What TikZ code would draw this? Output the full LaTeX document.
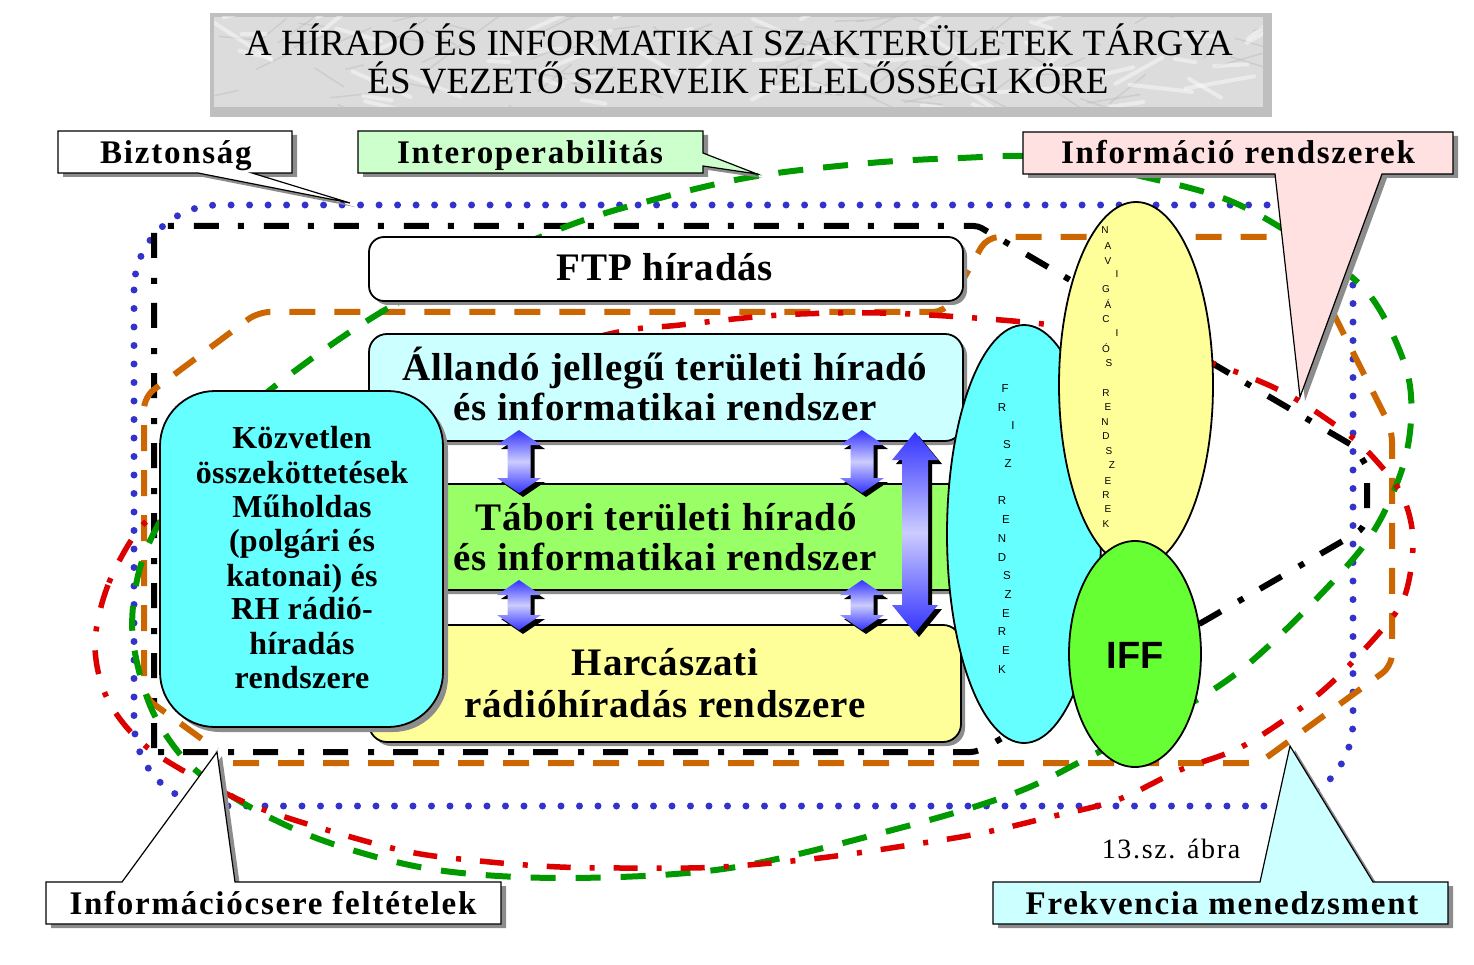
\documentclass[tikz,border=0pt]{standalone}
\usepackage{fontspec}
\setmainfont{Liberation Serif}
\newfontfamily\sansf{Liberation Sans}
\definecolor{cAll}{HTML}{CCFFFF}
\definecolor{cTab}{HTML}{99FF66}
\definecolor{cHar}{HTML}{FFFF99}
\definecolor{cKoz}{HTML}{66FFFF}
\definecolor{cIFF}{HTML}{66FF33}
\definecolor{cInter}{HTML}{CCFFCC}
\definecolor{cInfo}{HTML}{FFE1E1}
\definecolor{cFrek}{HTML}{CCFFFF}
\definecolor{lblue}{HTML}{3333CC}
\definecolor{lgreen}{HTML}{009900}
\definecolor{lorange}{HTML}{CC6600}
\definecolor{lred}{HTML}{DD0000}
\definecolor{arrblue}{HTML}{3333FF}
\definecolor{arrlight}{HTML}{CCCCFF}
\definecolor{shd}{HTML}{8C8C8C}
\definecolor{marble}{HTML}{DCDCDC}
\tikzset{
  bluedots/.style={lblue, line width=7pt, line cap=round, dash pattern=on 0pt off 18.5pt},
  blackdd/.style={black, line width=6pt, dash pattern=on 25pt off 19pt on 6pt off 20pt},
  orangedash/.style={lorange, line width=6pt, dash pattern=on 26pt off 19pt},
  greendash/.style={lgreen, line width=6pt, dash pattern=on 25pt off 20pt},
  reddd/.style={lred, line width=5.5pt, dash pattern=on 24pt off 19pt on 5pt off 19pt},
  boxline/.style={draw=black, line width=1.8pt},
  calloutline/.style={draw=black, line width=1.2pt},
  shdfill/.style={fill=shd},
  bigtxt/.style={font=\fontsize{39}{42}\selectfont\bfseries\addfontfeature{LetterSpace=2}, anchor=base, inner sep=0pt},
  kozt/.style={font=\fontsize{32}{34}\selectfont\bfseries\addfontfeature{LetterSpace=1}, anchor=base, inner sep=0pt},
  lbltxt/.style={font=\fontsize{33}{36}\selectfont\bfseries\addfontfeature{LetterSpace=5.3}, anchor=base, inner sep=0pt},
  titletxt/.style={font=\fontsize{37}{40}\selectfont, anchor=base, inner sep=0pt},
  vl/.style={font=\sansf\fontsize{11.5}{11.5}\selectfont, inner sep=0pt},
  nl/.style={font=\sansf\fontsize{10}{10}\selectfont, inner sep=0pt},
}
\newcommand\dblarr[6]{%
  \fill[black, shift={(4,4)}] (#1,#2) -- ({#1+#5},{#2+#6}) -- ({#1+#4},{#2+#6}) -- ({#1+#4},{#3-#6}) -- ({#1+#5},{#3-#6}) -- (#1,#3) -- ({#1-#5},{#3-#6}) -- ({#1-#4},{#3-#6}) -- ({#1-#4},{#2+#6}) -- ({#1-#5},{#2+#6}) -- cycle;
  \shade[top color=arrblue, bottom color=arrblue, middle color=arrlight] (#1,#2) -- ({#1+#5},{#2+#6}) -- ({#1+#4},{#2+#6}) -- ({#1+#4},{#3-#6}) -- ({#1+#5},{#3-#6}) -- (#1,#3) -- ({#1-#5},{#3-#6}) -- ({#1-#4},{#3-#6}) -- ({#1-#4},{#2+#6}) -- ({#1-#5},{#2+#6}) -- cycle;
}
\begin{document}
\begin{tikzpicture}[x=1pt,y=-1pt]
\useasboundingbox (0,0) rectangle (1474,965);
\fill[white] (0,0) rectangle (1474,965);

% ---------- title ----------
\fill[gray!50] (210,13) rectangle (1272,117);
\fill[marble] (214,17) rectangle (1263,107);
\begin{scope}
\clip (214,17) rectangle (1263,107);
\pgfmathsetseed{11}
\foreach \i in {1,...,90} {
  \pgfmathsetmacro\xa{214+rnd*1049}
  \pgfmathsetmacro\ya{17+rnd*90}
  \pgfmathsetmacro\ang{-40+rnd*80}
  \pgfmathsetmacro\len{15+rnd*45}
  \draw[gray!60, line width=1.5pt, opacity=0.35, line cap=round] (\xa,\ya) -- ++(\ang:\len);
}
\foreach \i in {1,...,60} {
  \pgfmathsetmacro\xa{214+rnd*1049}
  \pgfmathsetmacro\ya{17+rnd*90}
  \pgfmathsetmacro\ang{-40+rnd*80}
  \pgfmathsetmacro\len{20+rnd*50}
  \draw[white, line width=4pt, opacity=0.45, line cap=round] (\xa,\ya) -- ++(\ang:\len);
}
\end{scope}
\node[titletxt] (t1) at (739,56) {A HÍRADÓ ÉS INFORMATIKAI SZAKTERÜLETEK TÁRGYA};
\node[titletxt] (t2) at (738,94) {ÉS VEZETŐ SZERVEIK FELELŐSSÉGI KÖRE};

% ---------- boundary lines ----------
\draw[bluedots, rounded corners=85pt] (134,205) rectangle (1353,806);
\draw[blackdd, rounded corners=4pt] (154,752) -- (154,226) -- (978,226) -- (1355,447) -- (1367,467) -- (1367,520) -- (1360,531) -- (990,745) -- (975,752) -- cycle;
\draw[orangedash, rounded corners=12pt] (233,763) -- (1259,763) -- (1392,666) -- (1392,430) -- (1295,237) -- (987,237) -- (945,312) -- (258,312) -- (144,397) -- (144,697) -- (217,750);
\draw[greendash] plot[smooth cycle, tension=0.55] coordinates {
 (270,390) (397,303) (560,229) (660,198) (757,176) (870,163) (960,158) (1040,157) (1140,176) (1228,200) (1300,240) (1368,293) (1405,365) (1411,420) (1399,478) (1362,548) (1275,640) (1208,693) (1093,755) (1015,793) (900,828) (730,868) (570,878) (437,870) (330,843) (250,807) (190,765) (152,710) (133,640) (137,580) (157,527) (205,455)};
\draw[reddd] plot[smooth cycle, tension=0.55] coordinates {
 (140,528) (108,585) (95,645) (108,700) (148,748) (225,793) (285,817) (400,850) (480,861) (560,867) (640,868) (720,867) (820,858) (910,845) (982,833) (1050,817) (1117,800) (1180,770) (1245,745) (1320,693) (1380,632) (1405,595) (1413,540) (1402,495) (1372,456) (1345,432) (1287,394) (1223,367) (1140,340) (1060,326) (975,318) (880,313) (780,315) (680,325) (605,335) (430,385) (270,460) (175,505)};

% ---------- main boxes ----------
\fill[shdfill, rounded corners=15pt] (373,241) rectangle (967,305);
\draw[boxline, fill=white, rounded corners=15pt] (369,237) rectangle (963,301);
\node[bigtxt] (ftp) at (665,281) {FTP híradás};

\fill[shdfill, rounded corners=18pt] (373,338) rectangle (967,445);
\draw[boxline, fill=cAll, rounded corners=18pt] (369,334) rectangle (963,441);
\node[bigtxt] (all1) at (665,380) {Állandó jellegű területi híradó};
\node[bigtxt] (all2) at (665,420) {és informatikai rendszer};

\fill[shdfill, rounded corners=8pt] (373,488) rectangle (966,594);
\draw[boxline, fill=cTab, rounded corners=8pt] (369,484) rectangle (962,590);
\node[bigtxt] (tab1) at (666,530) {Tábori területi híradó};
\node[bigtxt] (tab2) at (665,570) {és informatikai rendszer};

\fill[shdfill, rounded corners=18pt] (373,629) rectangle (965,746);
\draw[boxline, fill=cHar, rounded corners=18pt] (369,625) rectangle (961,742);
\node[bigtxt] (har1) at (665,675) {Harcászati};
\node[bigtxt] (har2) at (665,717) {rádióhíradás rendszere};

\fill[shdfill, rounded corners=55pt] (165,396) rectangle (448,732);
\draw[boxline, fill=cKoz, rounded corners=55pt] (160,391) rectangle (443,727);
\node[kozt] (k1) at (302,448) {Közvetlen};
\node[kozt] (k2) at (302,483) {összeköttetések};
\node[kozt] (k3) at (302,517) {Műholdas};
\node[kozt] (k4) at (302,551) {(polgári és};
\node[kozt] (k5) at (302,586) {katonai) és};
\node[kozt] (k6) at (302,619) {RH rádió-};
\node[kozt] (k7) at (302,654) {híradás};
\node[kozt] (k8) at (302,688) {rendszere};

% ---------- ellipses ----------
\draw[boxline, fill=cKoz] (1024,534) ellipse [x radius=77pt, y radius=209pt];
\draw[boxline, fill=cHar] (1136,385) ellipse [x radius=77pt, y radius=183pt];
\draw[boxline, fill=cIFF] (1135,654) ellipse [x radius=66pt, y radius=113pt];
\node[font=\sansf\bfseries\fontsize{38}{38}\selectfont, anchor=base, inner sep=0pt] (iff) at (1135,668) {IFF};
\foreach \x/\y/\t [count=\i] in {1005/389/F,1002/408/R,1013/426/I,1007/445/S,1008/464/Z,1002/501/R,1006/520/E,1002/539/N,1002/558/D,1007/576/S,1008/595/Z,1006/614/E,1002/632/R,1006/651/E,1002/670/K}
  \node[vl] (fr\i) at (\x,\y) {\t};
\foreach \x/\y/\t [count=\i] in {1105/230/N,1108/246/A,1108/261/V,1117/274/I,1106/289/G,1108/304/Á,1106/319/C,1117/333/I,1106/348/Ó,1109/363/S,1106/393/R,1108/407/E,1105/422/N,1106/436/D,1109/451/S,1112/465/Z,1108/481/E,1106/495/R,1108/509/E,1106/524/K}
  \node[nl] (nv\i) at (\x,\y) {\t};

% ---------- arrows ----------
\dblarr{519}{430}{493}{11.5}{22}{15}
\dblarr{862}{430}{493}{11.5}{22}{15}
\dblarr{519}{580}{630}{11.5}{22}{15}
\dblarr{862}{580}{630}{11.5}{22}{15}
\dblarr{915}{432}{633}{13}{23}{28}

% ---------- callouts ----------
\fill[shdfill, shift={(5,4)}] (58,131) -- (292,131) -- (292,173) -- (252,173) -- (350,203) -- (198,173) -- (58,173) -- cycle;
\draw[calloutline, fill=white] (58,131) -- (292,131) -- (292,173) -- (252,173) -- (350,203) -- (198,173) -- (58,173) -- cycle;
\node[lbltxt] (bizt) at (176,164) {Biztonság};

\fill[shdfill, shift={(5,4)}] (358,131) -- (703,131) -- (703,153) -- (757,174) -- (703,166) -- (703,173) -- (358,173) -- cycle;
\draw[calloutline, fill=cInter] (358,131) -- (703,131) -- (703,153) -- (757,174) -- (703,166) -- (703,173) -- (358,173) -- cycle;
\node[lbltxt] (inter) at (530,164) {Interoperabilitás};

\fill[shdfill, shift={(5,4)}] (1023,132) -- (1453,132) -- (1453,174) -- (1382,174) -- (1300,397) -- (1275,174) -- (1023,174) -- cycle;
\draw[calloutline, fill=cInfo] (1023,132) -- (1453,132) -- (1453,174) -- (1382,174) -- (1300,397) -- (1275,174) -- (1023,174) -- cycle;
\node[lbltxt] (info) at (1238,164) {Információ rendszerek};

\fill[shdfill, shift={(5,4)}] (993,882) -- (1260,882) -- (1290,746) -- (1373,882) -- (1448,882) -- (1448,924) -- (993,924) -- cycle;
\draw[calloutline, fill=cFrek] (993,882) -- (1260,882) -- (1290,746) -- (1373,882) -- (1448,882) -- (1448,924) -- (993,924) -- cycle;
\node[lbltxt] (frek) at (1222,914) {Frekvencia menedzsment};

\fill[shdfill, shift={(5,4)}] (46,882) -- (122,882) -- (217,752) -- (235,882) -- (501,882) -- (501,924) -- (46,924) -- cycle;
\draw[calloutline, fill=white] (46,882) -- (122,882) -- (217,752) -- (235,882) -- (501,882) -- (501,924) -- (46,924) -- cycle;
\node[lbltxt] (icsere) at (273,914) {Információcsere feltételek};

\node[font=\fontsize{28}{30}\selectfont\addfontfeature{LetterSpace=6}, anchor=base, inner sep=0pt] (abra) at (1171,858) {13.sz. ábra};
\end{tikzpicture}
\end{document}
